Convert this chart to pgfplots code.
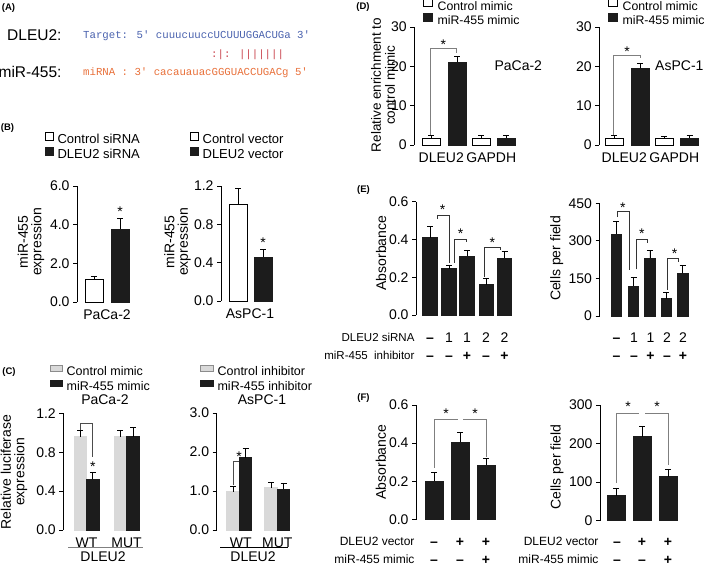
\documentclass[border=0pt]{standalone}
\usepackage{pgfplots}
\pgfplotsset{compat=1.18}
\usepackage{fontspec}
\setmainfont{Liberation Sans}
\newfontfamily\seqfont{Liberation Mono}
\newcommand\fs[1]{\fontsize{#1}{#1}\selectfont}
\definecolor{barblack}{HTML}{1C1C1C}
\definecolor{barg}{HTML}{D9D9D9}
\definecolor{seqblue}{HTML}{4A62AE}
\definecolor{seqorange}{HTML}{E8703A}
\definecolor{seqred}{HTML}{C8414B}
\definecolor{brk}{HTML}{7F7F7F}
\tikzset{astar/.style={font=\fs{14}, yshift=-3pt}}
\pgfplotsset{
  panel/.style={
    scale only axis, clip=false,
    axis y line*=left, axis x line*=bottom,
    x axis line style={draw=none},
    y axis line style={line width=0.8pt, black},
    xtick style={draw=none},
    ytick style={line width=0.8pt, black},
    tick align=outside, major tick length=4pt,
    xmin=0, ymin=0,
    ticklabel style={font=\fs{14}},
    yticklabel style={/pgf/number format/assume math mode=true},
    label style={font=\fontsize{14}{13.5}\selectfont},
    ylabel style={align=center, anchor=center},
    error bars/y dir=plus, error bars/y explicit,
    error bars/error bar style={line width=0.8pt, black},
    error bars/error mark options={rotate=90, mark size=3pt, line width=0.8pt, black},
  },
  dec/.style={yticklabel style={/pgf/number format/.cd, fixed, fixed zerofill, precision=1, assume math mode=true}},
  wbar/.style={ybar, bar width=#1, fill=white, draw=black, line width=0.8pt, forget plot},
  kbar/.style={ybar, bar width=#1, fill=barblack, draw=barblack, line width=0.8pt, forget plot},
  gbar/.style={ybar, bar width=#1, fill=barg, draw=barg, line width=0.8pt, forget plot},
  leg/.style n args={4}{legend style={at={(axis description cs:#1,#2)}, anchor=west, draw=none, fill=none, inner sep=0pt, outer sep=0pt, font=\fs{13}, row sep=#3, column sep=#4, nodes={inner sep=0pt, text height=9.5pt, text depth=2.5pt}}, legend cell align=left},
}
\newcommand\rv[3]{\node[anchor=base,inner sep=0pt,font=\fs{14}] at (#1,561-#2) {#3};}
\newcommand\mn{\textbf{--}}
\newcommand\pl{\textbf{+}}
\begin{document}
\begin{tikzpicture}[x=1pt,y=1pt]
\useasboundingbox (0,0) rectangle (709,566);
% ---------- panel labels
\node[font=\bfseries\fs{9.5}] at (8.5,558) {(A)};
\node[font=\bfseries\fs{9.5}] at (7.5,438) {(B)};
\node[font=\bfseries\fs{9.5}] at (9,194) {(C)};
\node[font=\bfseries\fs{9.5}] at (363,559) {(D)};
\node[font=\bfseries\fs{9.5}] at (363.5,376) {(E)};
\node[font=\bfseries\fs{9.5}] at (363.5,168) {(F)};
% ---------- panel A
\node[anchor=east,font=\fs{15.5}] at (65,531) {DLEU2:};
\node[anchor=east,font=\fs{15.5}] at (65,494) {miR-455:};
\node[anchor=west,inner sep=0pt,font=\seqfont\fs{10.7},text=seqblue] at (83,530) {Target: 5' cuuucuuccUCUUUGGACUGa 3'};
\node[anchor=west,inner sep=0pt,font=\seqfont\fs{10.7},text=seqred] at (211,511) {:|: |||||||};
\node[anchor=west,inner sep=0pt,font=\seqfont\fs{10.7},text=seqorange] at (83,493) {miRNA : 3' cacauauacGGGUACCUGACg 5'};

% ---------- panel B left
\begin{axis}[panel, dec, at={(77pt,264pt)}, anchor=south west, width=58pt, height=116pt,
  xmax=58, ymax=6, ytick={0,2,4,6}, xtick={30}, xticklabels={PaCa-2},
  ylabel={miR-455\\expression}, ylabel style={at={(axis description cs:-0.793,0.517)}},
  leg={-0.552}{1.34}{1pt}{4pt},
  legend image code/.code={\draw[#1] (0pt,0pt) rectangle (8pt,8pt);}]
\addplot[wbar=18pt] coordinates {(17,1.15) +- (0,0.2)};
\addplot[kbar=18pt] coordinates {(43,3.78) +- (0,0.56)};
\node[astar] at (axis cs:43,4.81) {*};
\addlegendimage{fill=white,draw=black,line width=0.6pt}\addlegendentry{Control siRNA}
\addlegendimage{fill=barblack,draw=barblack}\addlegendentry{DLEU2 siRNA}
\end{axis}
% ---------- panel B right
\begin{axis}[panel, dec, at={(221pt,265pt)}, anchor=south west, width=58pt, height=115pt,
  xmax=58, ymax=1.2, ytick={0,0.4,0.8,1.2}, xtick={29}, xticklabels={AsPC-1},
  ylabel={miR-455\\expression}, ylabel style={at={(axis description cs:-0.75,0.513)}},
  leg={-0.534}{1.343}{1pt}{4pt},
  legend image code/.code={\draw[#1] (0pt,0pt) rectangle (8pt,8pt);}]
\addplot[wbar=18pt] coordinates {(17,1.01) +- (0,0.16)};
\addplot[kbar=18pt] coordinates {(42,0.46) +- (0,0.08)};
\node[astar] at (axis cs:42,0.64) {*};
\addlegendimage{fill=white,draw=black,line width=0.6pt}\addlegendentry{Control vector}
\addlegendimage{fill=barblack,draw=barblack}\addlegendentry{DLEU2 vector}
\end{axis}

% ---------- panel C left
\begin{axis}[panel, dec, at={(63.3pt,36pt)}, anchor=south west, width=80pt, height=116.7pt,
  xmax=80, ymax=1.2, ytick={0,0.4,0.8,1.2}, xtick={23.3,63.3}, xticklabels={WT,MUT},
  ylabel={Relative luciferase\\expression}, ylabel style={at={(axis description cs:-0.616,0.497)}},
  leg={-0.166}{1.295}{1.5pt}{4pt},
  legend style={font=\fs{12.5}},
  legend image code/.code={\draw[#1] (0pt,1pt) rectangle (12pt,7pt);}]
\draw[black!70,line width=0.8pt] (axis cs:17,1.03) -- (axis cs:17,1.098) -- (axis cs:29.5,1.098) -- (axis cs:29.5,0.754);
\addplot[gbar=12.5pt] coordinates {(17,0.96) +- (0,0.06)};
\addplot[kbar=12.5pt] coordinates {(29.5,0.52) +- (0,0.07)};
\addplot[gbar=12.5pt] coordinates {(57,0.96) +- (0,0.06)};
\addplot[kbar=12.5pt] coordinates {(69.7,0.96) +- (0,0.09)};
\node[astar] at (axis cs:29.5,0.686) {*};
\addlegendimage{fill=barg,draw=black!45,line width=0.6pt}\addlegendentry{Control mimic}
\addlegendimage{fill=barblack,draw=barblack}\addlegendentry{miR-455 mimic}
\end{axis}
% ---------- panel C right
\begin{axis}[panel, dec, at={(216.7pt,36pt)}, anchor=south west, width=80pt, height=117pt,
  xmax=80, ymax=3, ytick={0,1,2,3}, xtick={24,60.6}, xticklabels={WT,MUT},
  leg={-0.209}{1.291}{1.5pt}{4pt},
  legend style={font=\fs{12.5}},
  legend image code/.code={\draw[#1] (0pt,1pt) rectangle (13pt,7pt);}]
\draw[black!70,line width=0.8pt] (axis cs:16.3,1.15) -- (axis cs:16.3,1.77) -- (axis cs:28.8,1.77);
\addplot[gbar=12.5pt] coordinates {(16.3,0.98) +- (0,0.15)};
\addplot[kbar=12.5pt] coordinates {(28.8,1.85) +- (0,0.25)};
\addplot[gbar=12.5pt] coordinates {(54.3,1.08) +- (0,0.15)};
\addplot[kbar=12.5pt] coordinates {(66.8,1.05) +- (0,0.15)};
\node[astar] at (axis cs:22.3,1.95) {*};
\addlegendimage{fill=barg,draw=black!45,line width=0.6pt}\addlegendentry{Control inhibitor}
\addlegendimage{fill=barblack,draw=barblack}\addlegendentry{miR-455 inhibitor}
\end{axis}
\node[font=\fs{14}] at (105,166) {PaCa-2};
\node[font=\fs{14}] at (262,166) {AsPC-1};
\draw[black!50,line width=0.8pt] (68,19) -- (143,19);
\draw[black,line width=0.8pt] (220,19) -- (288,19);
\node[font=\fs{14}] at (103,9) {DLEU2};
\node[font=\fs{14}] at (253,9) {DLEU2};

% ---------- panel D left
\begin{axis}[panel, at={(414.3pt,421pt)}, anchor=south west, width=105pt, height=118pt,
  xmax=105, ymax=30, ytick={0,10,20,30}, xtick={27,77}, xticklabels={DLEU2,GAPDH},
  ylabel={Relative enrichment to\\control mimic}, ylabel style={at={(axis description cs:-0.298,0.508)}, font=\fontsize{13.5}{14}\selectfont},
  leg={0.083}{1.123}{0pt}{5pt},
  legend style={font=\fs{12.3}},
  legend image code/.code={\draw[#1] (0pt,0pt) rectangle (9pt,8pt);}]
\draw[brk,line width=0.8pt] (axis cs:16,2.6) -- (axis cs:16,24.6) -- (axis cs:41.7,24.6) -- (axis cs:41.7,23.3);
\addplot[wbar=18pt] coordinates {(16.7,1.8) +- (0,0.6)};
\addplot[kbar=18pt] coordinates {(42.7,21) +- (0,1.5)};
\addplot[wbar=18pt] coordinates {(66.7,1.8) +- (0,0.7)};
\addplot[kbar=18pt] coordinates {(91.7,1.8) +- (0,0.7)};
\node[astar] at (axis cs:29,26.3) {*};
\addlegendimage{fill=white,draw=black,line width=0.6pt}\addlegendentry{Control mimic}
\addlegendimage{fill=barblack,draw=barblack}\addlegendentry{miR-455 mimic}
\end{axis}
\node[anchor=west,font=\fs{14}] at (491,500) {PaCa-2};
% ---------- panel D right
\begin{axis}[panel, at={(599.3pt,421pt)}, anchor=south west, width=105pt, height=118pt,
  xmax=105, ymax=30, ytick={0,10,20,30}, xtick={25,75}, xticklabels={DLEU2,GAPDH},
  leg={0.083}{1.123}{0pt}{5pt},
  legend style={font=\fs{12.3}},
  legend image code/.code={\draw[#1] (0pt,0pt) rectangle (9pt,8pt);}]
\draw[brk,line width=0.8pt] (axis cs:13.7,2.6) -- (axis cs:13.7,22.9) -- (axis cs:40.7,22.9) -- (axis cs:40.7,22);
\addplot[wbar=18pt] coordinates {(14.7,1.8) +- (0,0.7)};
\addplot[kbar=18pt] coordinates {(40.7,19.5) +- (0,1.3)};
\addplot[wbar=18pt] coordinates {(64.7,1.6) +- (0,0.6)};
\addplot[kbar=18pt] coordinates {(90.2,1.8) +- (0,0.6)};
\node[astar] at (axis cs:27.7,24.6) {*};
\addlegendimage{fill=white,draw=black,line width=0.6pt}\addlegendentry{Control mimic}
\addlegendimage{fill=barblack,draw=barblack}\addlegendentry{miR-455 mimic}
\end{axis}
\node[anchor=east,font=\fs{14}] at (707,500) {AsPC-1};

% ---------- panel E left
\begin{axis}[panel, dec, at={(416pt,251pt)}, anchor=south west, width=98pt, height=113.3pt,
  xmax=98, ymax=0.6, ytick={0,0.2,0.4,0.6}, xtick=\empty,
  ylabel={Absorbance}, ylabel style={at={(axis description cs:-0.357,0.547)}}]
\addplot[kbar=14.5pt] coordinates {(14,0.41) +- (0,0.06)};
\addplot[kbar=14.5pt] coordinates {(33,0.245) +- (0,0.02)};
\addplot[kbar=14.5pt] coordinates {(51,0.31) +- (0,0.03)};
\addplot[kbar=14.5pt] coordinates {(70.3,0.16) +- (0,0.035)};
\addplot[kbar=14.5pt] coordinates {(88.5,0.30) +- (0,0.035)};
\draw[black!80,line width=0.8pt] (axis cs:21,0.51) -- (axis cs:21,0.529) -- (axis cs:33,0.529) -- (axis cs:33,0.274);
\draw[black!80,line width=0.8pt] (axis cs:38,0.277) -- (axis cs:38,0.40) -- (axis cs:50.7,0.40) -- (axis cs:50.7,0.385);
\draw[black!80,line width=0.8pt] (axis cs:68,0.203) -- (axis cs:68,0.358) -- (axis cs:84,0.358) -- (axis cs:84,0.345);
\node[astar] at (axis cs:26.7,0.573) {*};
\node[astar] at (axis cs:44.7,0.446) {*};
\node[astar] at (axis cs:76.3,0.40) {*};
\end{axis}
% ---------- panel E right
\begin{axis}[panel, at={(599.5pt,250pt)}, anchor=south west, width=90pt, height=112.7pt,
  xmax=90, ymax=450, ytick={0,150,300,450}, xtick=\empty,
  ylabel={Cells per field}, ylabel style={at={(axis description cs:-0.475,0.51)}}]
\addplot[kbar=10.5pt] coordinates {(16.7,327) +- (0,49)};
\addplot[kbar=10.5pt] coordinates {(34,120) +- (0,35)};
\addplot[kbar=10.5pt] coordinates {(50.4,230) +- (0,31)};
\addplot[kbar=10.5pt] coordinates {(66.7,69) +- (0,24)};
\addplot[kbar=10.5pt] coordinates {(83.2,170) +- (0,32)};
\draw[black!80,line width=0.8pt] (axis cs:18,395) -- (axis cs:18,416) -- (axis cs:29.7,416) -- (axis cs:29.7,184);
\draw[black!80,line width=0.8pt] (axis cs:36.7,186) -- (axis cs:36.7,306) -- (axis cs:48,306) -- (axis cs:48,293);
\draw[black!80,line width=0.8pt] (axis cs:67.4,104) -- (axis cs:67.4,230) -- (axis cs:79,230) -- (axis cs:79,215);
\node[astar] at (axis cs:23.4,443) {*};
\node[astar] at (axis cs:42.4,339) {*};
\node[astar] at (axis cs:75,260) {*};
\end{axis}
\node[anchor=east,font=\fs{11.5}] at (418,229) {DLEU2 siRNA};
\node[anchor=east,font=\fs{11.5}] at (418,211) {miR-455~ inhibitor};
\rv{430}{337}{\mn}\rv{449}{337}{1}\rv{467}{337}{1}\rv{486}{337}{2}\rv{504.5}{337}{2}
\rv{430}{355}{\mn}\rv{449}{355}{\mn}\rv{467}{355}{\pl}\rv{486}{355}{\mn}\rv{504.5}{355}{\pl}
\rv{616.5}{337}{\mn}\rv{634}{337}{1}\rv{650.5}{337}{1}\rv{667}{337}{2}\rv{683}{337}{2}
\rv{616.5}{355}{\mn}\rv{634}{355}{\mn}\rv{650.5}{355}{\pl}\rv{667}{355}{\mn}\rv{683}{355}{\pl}

% ---------- panel F left
\begin{axis}[panel, dec, at={(416pt,46.5pt)}, anchor=south west, width=84pt, height=114.5pt,
  xmax=84, ymax=0.6, ytick={0,0.2,0.4,0.6}, xtick=\empty,
  ylabel={Absorbance}, ylabel style={at={(axis description cs:-0.417,0.502)}}]
\addplot[kbar=18pt] coordinates {(18,0.20) +- (0,0.045)};
\addplot[kbar=18pt] coordinates {(44,0.405) +- (0,0.05)};
\addplot[kbar=18pt] coordinates {(70,0.285) +- (0,0.035)};
\draw[brk,line width=0.8pt] (axis cs:18,0.27) -- (axis cs:18,0.527) -- (axis cs:42.3,0.527);
\draw[brk,line width=0.8pt] (axis cs:47.3,0.527) -- (axis cs:70.7,0.527) -- (axis cs:70.7,0.33);
\node[astar] at (axis cs:30,0.569) {*};
\node[astar] at (axis cs:59,0.569) {*};
\end{axis}
% ---------- panel F right
\begin{axis}[panel, at={(600pt,45.5pt)}, anchor=south west, width=84pt, height=115.5pt,
  xmax=84, ymax=300, ytick={0,100,200,300}, xtick=\empty,
  ylabel={Cells per field}, ylabel style={at={(axis description cs:-0.512,0.463)}}]
\addplot[kbar=18pt] coordinates {(16,64) +- (0,20)};
\addplot[kbar=18pt] coordinates {(42,218) +- (0,26)};
\addplot[kbar=18pt] coordinates {(68,114) +- (0,19)};
\draw[brk,line width=0.8pt] (axis cs:16,97) -- (axis cs:16,279) -- (axis cs:39,279);
\draw[brk,line width=0.8pt] (axis cs:45,279) -- (axis cs:68,279) -- (axis cs:68,145);
\node[astar] at (axis cs:28,303) {*};
\node[astar] at (axis cs:57,303) {*};
\end{axis}
\node[anchor=east,font=\fs{12}] at (418,25) {DLEU2 vector};
\node[anchor=east,font=\fs{12}] at (418,6.5) {miR-455 mimic};
\node[anchor=east,font=\fs{12}] at (602,25) {DLEU2 vector};
\node[anchor=east,font=\fs{12}] at (602,6.5) {miR-455 mimic};
\rv{434}{541}{\mn}\rv{460}{541}{\pl}\rv{486}{541}{\pl}
\rv{434}{559}{\mn}\rv{460}{559}{\mn}\rv{486}{559}{\pl}
\rv{617}{541}{\mn}\rv{642}{541}{\pl}\rv{668}{541}{\pl}
\rv{617}{559}{\mn}\rv{642}{559}{\mn}\rv{668}{559}{\pl}
\end{tikzpicture}
\end{document}
